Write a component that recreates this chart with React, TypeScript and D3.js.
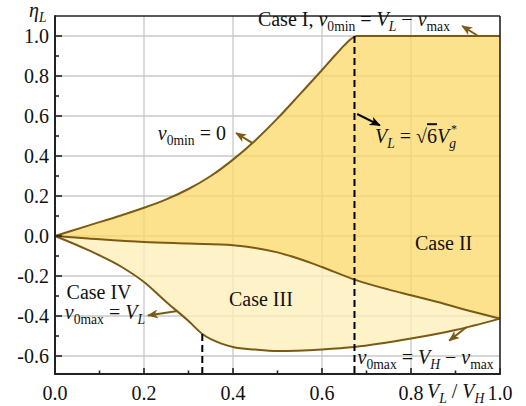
import React from 'react';
import * as d3 from 'd3';

const W = 526;
const H = 406;

// Upper boundary (v0min = 0), then flat at 1.0
const upperX = [0, 0.075, 0.15, 0.2, 0.25, 0.3, 0.35, 0.4, 0.45, 0.5, 0.55, 0.6, 0.63, 0.65, 0.665, 0.678, 1.0];
const upperY = [0, 0.052, 0.104, 0.141, 0.183, 0.235, 0.3, 0.382, 0.478, 0.588, 0.708, 0.83, 0.905, 0.953, 0.985, 1.0, 1.0];
// Middle boundary (Case II / Case III)
const midX = [0, 0.075, 0.2, 0.3, 0.4, 0.45, 0.5, 0.55, 0.6, 0.673, 0.75, 0.8, 0.86, 0.935, 1.0];
const midY = [0, -0.012, -0.03, -0.038, -0.046, -0.06, -0.082, -0.115, -0.155, -0.218, -0.268, -0.296, -0.33, -0.376, -0.413];
// Lower boundary (v0max)
const lowerX = [0, 0.075, 0.15, 0.2, 0.25, 0.3, 0.331, 0.374, 0.4, 0.45, 0.5, 0.6, 0.673, 0.8, 0.9, 1.0];
const lowerY = [0, -0.071, -0.155, -0.23, -0.33, -0.425, -0.49, -0.538, -0.555, -0.568, -0.575, -0.567, -0.555, -0.513, -0.47, -0.413];

const dashX = [0.331, 0.673];
const dashTopY = [-0.49, 1.0];

const xMajor = [0, 0.2, 0.4, 0.6, 0.8, 1.0];
const xLabels = ['0.0', '0.2', '0.4', '0.6', '0.8', '1.0'];
const xMinor = [0.1, 0.3, 0.5, 0.7, 0.9];
const yMajor = [1.0, 0.8, 0.6, 0.4, 0.2, 0.0, -0.2, -0.4, -0.6];
const yLabels = ['1.0', '0.8', '0.6', '0.4', '0.2', '0.0', '-0.2', '-0.4', '-0.6'];
const yMinor = [0.9, 0.7, 0.5, 0.3, 0.1, -0.1, -0.3, -0.5];
const xGrid = [0.2, 0.4, 0.6, 0.8];

// arrows in data coords: [x1, y1, x2, y2, color]
const arrows: [number, number, number, number, string][] = [
  [0.951, 1.0, 0.915, 1.05, 'brown'],
  [0.443, 0.466, 0.407, 0.515, 'brown'],
  [0.679, 0.61, 0.73, 0.553, 'black'],
  [0.275, -0.375, 0.209, -0.397, 'brown'],
  [0.925, -0.455, 0.886, -0.523, 'brown'],
];

type Seg = { t: string; i?: boolean; sub?: boolean; sup?: boolean; ol?: boolean; dx?: number };
const labels: { x: number; y: number; segs: Seg[] }[] = [
  {
    x: 0.456, y: 1.049, segs: [
      { t: 'Case I, ' }, { t: 'v', i: true }, { t: '0min', sub: true }, { t: ' = ' },
      { t: 'V', i: true }, { t: 'L', i: true, sub: true }, { t: ' \u2212 ' }, { t: 'v', i: true }, { t: 'max', sub: true },
    ],
  },
  { x: 0.231, y: 0.479, segs: [{ t: 'v', i: true }, { t: '0min', sub: true }, { t: ' = 0' }] },
  {
    x: 0.719, y: 0.464, segs: [
      { t: 'V', i: true }, { t: 'L', i: true, sub: true }, { t: ' = \u221A' }, { t: '6', ol: true },
      { t: 'V', i: true }, { t: 'g', i: true, sub: true }, { t: '*', sup: true, dx: -5 },
    ],
  },
  { x: 0.809, y: -0.071, segs: [{ t: 'Case II' }] },
  { x: 0.391, y: -0.351, segs: [{ t: 'Case III' }] },
  { x: 0.026, y: -0.316, segs: [{ t: 'Case IV' }] },
  { x: 0.022, y: -0.413, segs: [{ t: 'v', i: true }, { t: '0max', sub: true }, { t: ' = ' }, { t: 'V', i: true }, { t: 'L', i: true, sub: true }] },
  {
    x: 0.68, y: -0.641, segs: [
      { t: 'v', i: true }, { t: '0max', sub: true }, { t: ' = ' }, { t: 'V', i: true }, { t: 'H', i: true, sub: true },
      { t: ' \u2212 ' }, { t: 'v', i: true }, { t: 'max', sub: true },
    ],
  },
];

const FONT = "'Liberation Serif', 'Times New Roman', Times, serif";
const BROWN = '#7b5b14';
const FS = 20;

function RichText({ x, y, segs, size = FS }: { x: number; y: number; segs: Seg[]; size?: number }) {
  let cur = 0;
  return (
    <text x={x} y={y} fontFamily={FONT} fontSize={size} fill="#111" style={{ whiteSpace: 'pre', fontFamily: FONT }}>
      {segs.map((s, k) => {
        const off = s.sub ? 5 : s.sup ? -10 : 0;
        const dy = off - cur;
        cur = off;
        return (
          <tspan
            key={k}
            dy={dy}
            dx={s.dx}
            fontStyle={s.i ? 'italic' : 'normal'}
            fontSize={s.sub ? size * 0.68 : s.sup ? size * 0.6 : size}
            style={s.ol ? { textDecoration: 'overline' } : undefined}
          >
            {s.t}
          </tspan>
        );
      })}
    </text>
  );
}

export default function App() {
  const x = d3.scaleLinear().domain([0, 1]).range([55, 500]);
  const y = d3.scaleLinear().domain([-0.69, 1.1]).range([374, 16]);

  const pts = (xs: number[], ys: number[]) => xs.map((v, k) => [v, ys[k]] as [number, number]);
  const line = d3.line<[number, number]>().x((d) => x(d[0])).y((d) => y(d[1])).curve(d3.curveMonotoneX);

  const up = pts(upperX, upperY);
  const mid = pts(midX, midY);
  const low = pts(lowerX, lowerY);

  const darkPath = (line(up) || '') + (line([...mid].reverse()) || '').replace(/^M/, 'L') + 'Z';
  const lightPath = (line(mid) || '') + (line([...low].reverse()) || '').replace(/^M/, 'L') + 'Z';

  const [x0, x1] = x.range();
  const [yb, yt] = y.range();

  return (
    <svg width={W} height={H} style={{ position: 'absolute', left: 0, top: 0, background: '#fff' }}>
      <defs>
        <marker id="hb" markerUnits="userSpaceOnUse" markerWidth={11} markerHeight={9} refX={10} refY={4.5} orient="auto">
          <path d="M0,0 L11,4.5 L0,9 L3,4.5 Z" fill={BROWN} />
        </marker>
        <marker id="hk" markerUnits="userSpaceOnUse" markerWidth={11} markerHeight={9} refX={10} refY={4.5} orient="auto">
          <path d="M0,0 L11,4.5 L0,9 L3,4.5 Z" fill="#000" />
        </marker>
      </defs>
      {/* grid */}
      {xGrid.map((v) => (
        <line key={'gx' + v} x1={x(v)} x2={x(v)} y1={yb} y2={yt} stroke="#c8c8c8" strokeWidth={1.3} />
      ))}
      {yMajor.map((v) => (
        <line key={'gy' + v} x1={x0} x2={x1} y1={y(v)} y2={y(v)} stroke="#c8c8c8" strokeWidth={1.3} />
      ))}
      {/* fills */}
      <path d={darkPath} fill="rgb(252,216,104)" fillOpacity={0.75} stroke="none" />
      <path d={lightPath} fill="rgb(254,238,182)" fillOpacity={0.75} stroke="none" />
      {/* curves */}
      <path d={line(up) || ''} fill="none" stroke={BROWN} strokeWidth={2} />
      <path d={line(mid) || ''} fill="none" stroke={BROWN} strokeWidth={2} />
      <path d={line(low) || ''} fill="none" stroke={BROWN} strokeWidth={2} />
      {/* dashed */}
      {dashX.map((v, k) => (
        <line key={'d' + k} x1={x(v)} x2={x(v)} y1={y(dashTopY[k])} y2={yb} stroke="#000" strokeWidth={2} strokeDasharray="7,4" />
      ))}
      {/* arrows */}
      {arrows.map((a, k) => (
        <line
          key={'a' + k}
          x1={x(a[0])}
          y1={y(a[1])}
          x2={x(a[2])}
          y2={y(a[3])}
          stroke={a[4] === 'black' ? '#000' : BROWN}
          strokeWidth={2}
          markerEnd={a[4] === 'black' ? 'url(#hk)' : 'url(#hb)'}
        />
      ))}
      {/* frame */}
      <line x1={x0} x2={x1} y1={yt} y2={yt} stroke="#222" strokeWidth={1.6} />
      <line x1={x1} x2={x1} y1={yt} y2={yb} stroke="#222" strokeWidth={1.6} />
      <line x1={x0} x2={x0} y1={yt - 0.8} y2={yb + 1} stroke="#222" strokeWidth={2} />
      <line x1={x0 - 1} x2={x1 + 0.8} y1={yb} y2={yb} stroke="#222" strokeWidth={2} />
      {/* ticks */}
      {xMajor.map((v) => (
        <line key={'tx' + v} x1={x(v)} x2={x(v)} y1={yb} y2={yb - 6} stroke="#222" strokeWidth={1.6} />
      ))}
      {xMinor.map((v) => (
        <line key={'mx' + v} x1={x(v)} x2={x(v)} y1={yb} y2={yb - 3.5} stroke="#222" strokeWidth={1.6} />
      ))}
      {yMajor.map((v) => (
        <line key={'ty' + v} x1={x0} x2={x0 + 7} y1={y(v)} y2={y(v)} stroke="#222" strokeWidth={1.6} />
      ))}
      {yMinor.map((v) => (
        <line key={'my' + v} x1={x0} x2={x0 + 4} y1={y(v)} y2={y(v)} stroke="#222" strokeWidth={1.6} />
      ))}
      {/* tick labels */}
      {yMajor.map((v, k) => (
        <text key={'ly' + v} x={x0 - 6} y={y(v)} dy="0.35em" textAnchor="end" fontFamily={FONT} fontSize={FS} fill="#111" style={{ fontFamily: FONT }}>
          {yLabels[k]}
        </text>
      ))}
      {xMajor.map((v, k) => (
        <text key={'lx' + v} x={x(v)} y={yb + 26} textAnchor="middle" fontFamily={FONT} fontSize={FS} fill="#111" style={{ fontFamily: FONT }}>
          {xLabels[k]}
        </text>
      ))}
      {/* axis titles */}
      <RichText x={x(0.836)} y={yb + 24} segs={[{ t: 'V', i: true }, { t: 'L', i: true, sub: true }, { t: ' / ' }, { t: 'V', i: true }, { t: 'H', i: true, sub: true }]} />
      <RichText x={29} y={17} segs={[{ t: '\u03B7', i: true }, { t: 'L', i: true, sub: true }]} />
      {/* annotations */}
      {labels.map((l, k) => (
        <RichText key={'t' + k} x={x(l.x)} y={y(l.y)} segs={l.segs} />
      ))}
    </svg>
  );
}
